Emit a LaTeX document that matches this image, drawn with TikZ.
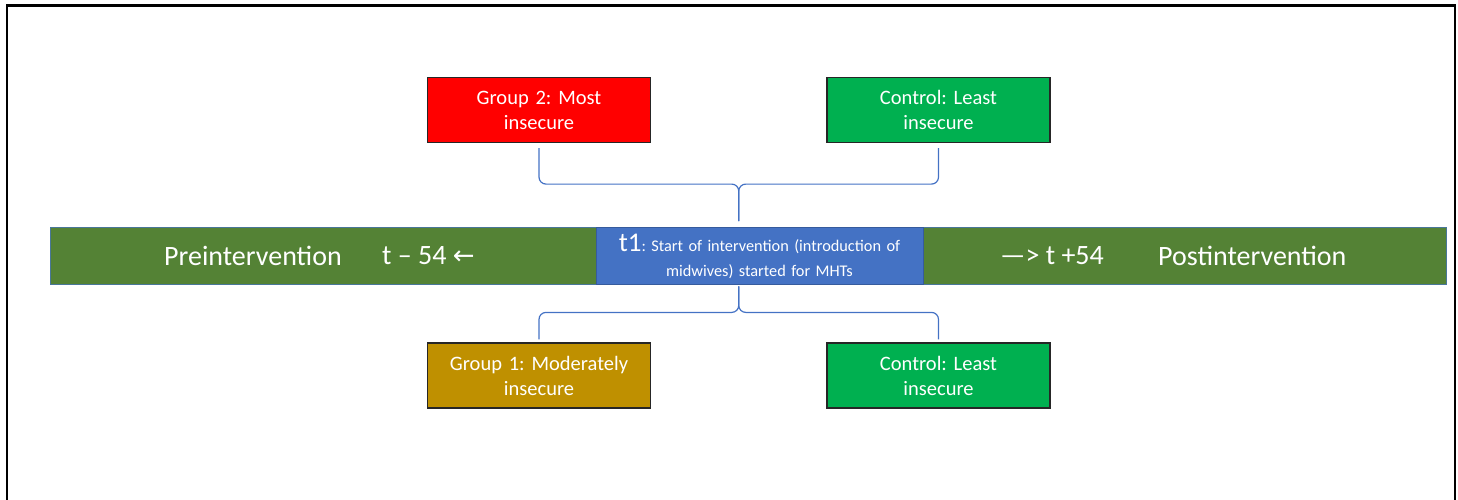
\documentclass[tikz,border=0pt]{standalone}
\usepackage{fontspec}
\setmainfont{Carlito}
\newfontfamily\symfont{DejaVu Sans}
\usetikzlibrary{calc}
\frenchspacing
\definecolor{barGreen}{HTML}{548235}
\definecolor{startBlue}{HTML}{4472C4}
\definecolor{braceBlue}{HTML}{4472C4}
\definecolor{hiRed}{HTML}{FF0000}
\definecolor{ctrlGreen}{HTML}{00B050}
\definecolor{midGold}{HTML}{BF9000}
\tikzset{
  groupbox/.style={draw=black!85, line width=1.2pt, minimum width=223pt, minimum height=65pt,
    text width=215pt, align=center, text=white, font=\fontsize{20.5}{25}\selectfont, inner sep=0pt},
  bartext/.style={text=white, font=\fontsize{28}{30}\selectfont, inner sep=0pt, anchor=west},
  brace/.style={draw=braceBlue, line width=1.2pt, rounded corners=7pt}
}
\begin{document}
\begin{tikzpicture}[x=1pt,y=-1pt]
\useasboundingbox (0,0) rectangle (1458,500);
\clip (0,0) rectangle (1458,500);
% outer frame
\draw[line width=2.5pt] (7,5.5) rectangle (1455,530);
% timeline bar
\node[draw=startBlue!70!barGreen, line width=0.8pt, fill=barGreen, minimum width=1396pt, minimum height=57pt, inner sep=0pt]
  (bar) at (748,255.5) {};
\node[draw=startBlue!80!black, line width=0.8pt, fill=startBlue, minimum width=327pt, minimum height=57pt, inner sep=0pt,
  text width=320pt, align=center, text=white, font=\fontsize{16.3}{25}\selectfont] (start) at (759.5,256)
  {{\fontsize{27}{25}\selectfont t1}: Start of intervention (introduction of\\midwives) started for MHTs};
\node[bartext] (pre) at (164,256) {Preintervention};
\node[bartext] (preT) at (382,256) {t – 54 {\symfont\fontsize{26}{28}\selectfont ←}};
\node[bartext] (postT) at (1000,256) {—> t +54};
\node[bartext] (post) at (1158,256) {Postintervention};
% groups
\node[groupbox, fill=hiRed] (g2) at (539,110) {Group 2: Most\\insecure};
\node[groupbox, fill=ctrlGreen] (c1) at (938.5,110) {Control: Least\\insecure};
\node[groupbox, fill=midGold] (g1) at (539,375.5) {Group 1: Moderately\\insecure};
\node[groupbox, fill=ctrlGreen] (c2) at (938.5,375.5) {Control: Least\\insecure};
% braces joining the groups to the timeline
\coordinate (topMid) at ($(g2.south)!0.5!(c1.south)$);
\coordinate (botMid) at ($(g1.north)!0.5!(c2.north)$);
\draw[brace] ($(g2.south)+(0,5)$) -- ($(g2.south)+(0,41)$) -- ($(topMid)+(0,41)$) -- ($(topMid)+(0,78)$);
\draw[brace] ($(c1.south)+(0,5)$) -- ($(c1.south)+(0,41)$) -- ($(topMid)+(0,41)$) -- ($(topMid)+(0,78)$);
\draw[brace] ($(botMid)+(0,-56)$) -- ($(botMid)+(0,-30)$) -- ($(g1.north)+(0,-30)$) -- ($(g1.north)+(0,-3)$);
\draw[brace] ($(botMid)+(0,-56)$) -- ($(botMid)+(0,-30)$) -- ($(c2.north)+(0,-30)$) -- ($(c2.north)+(0,-3)$);
\end{tikzpicture}
\end{document}
